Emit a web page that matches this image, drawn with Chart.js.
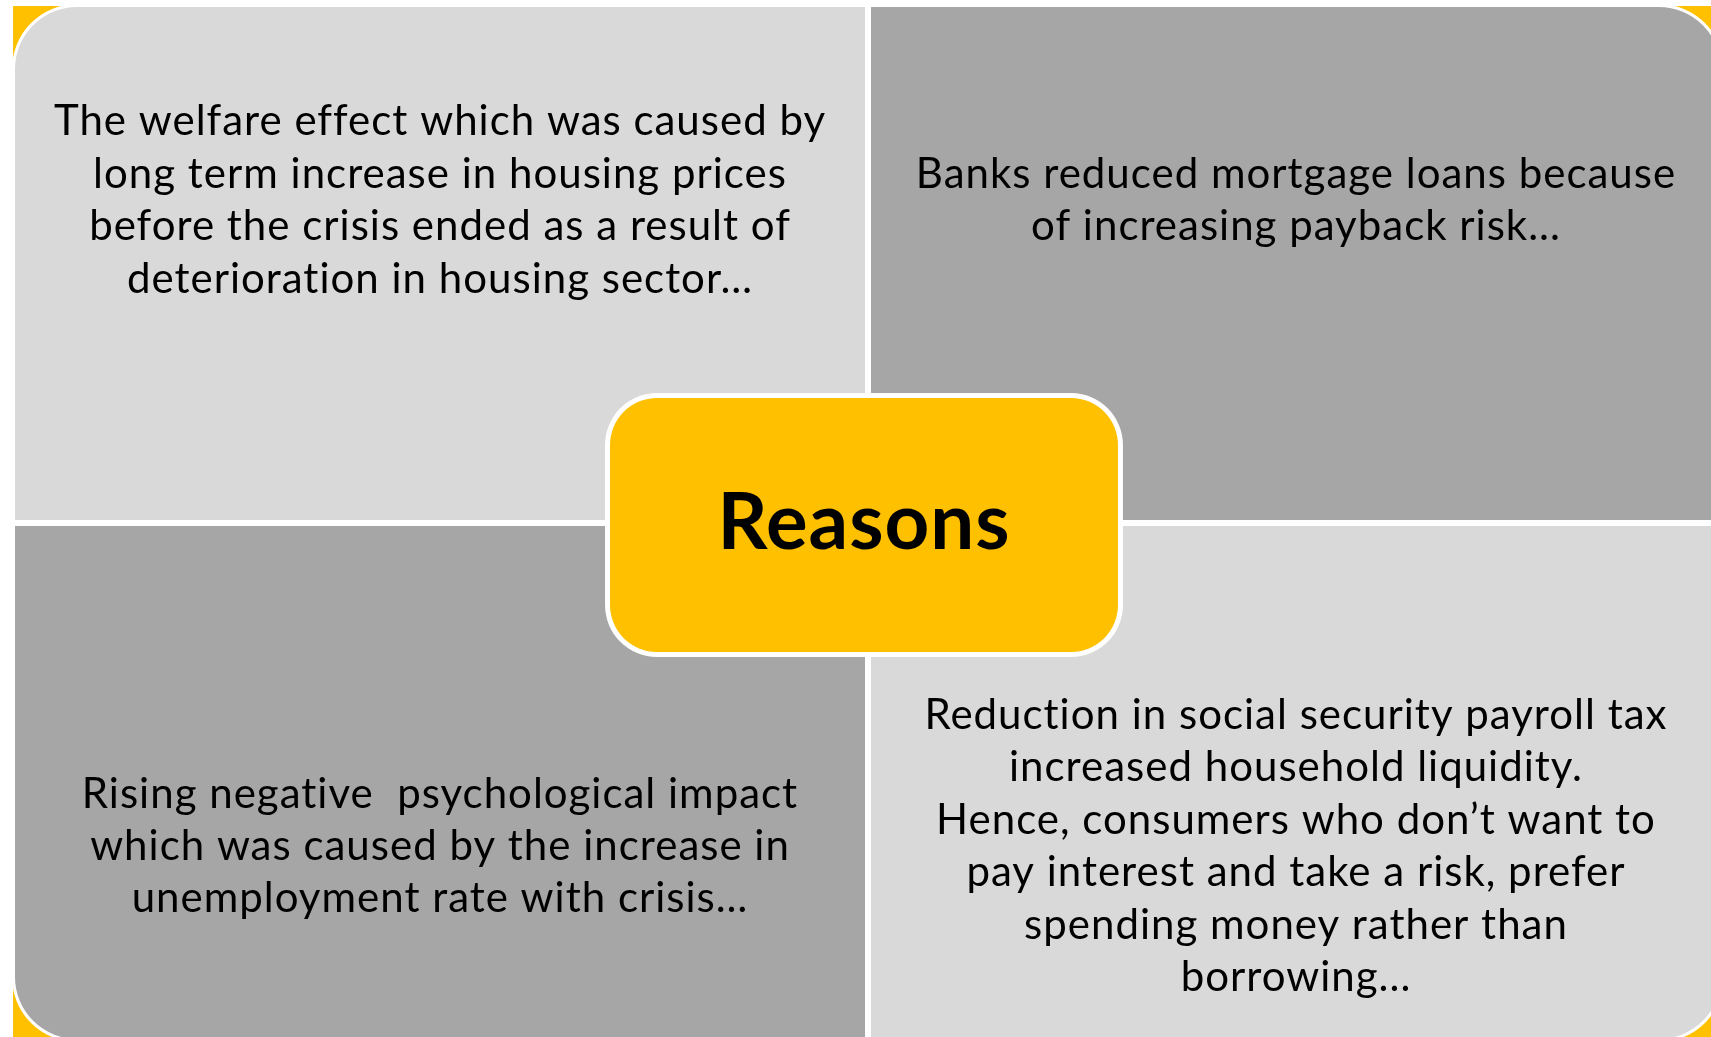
<!DOCTYPE html>
<html>
<head>
<meta charset="utf-8">
<script src="https://cdn.jsdelivr.net/npm/chart.js@4/dist/chart.umd.min.js"></script>
<style>
html, body { margin: 0; padding: 0; background: #fff; overflow: hidden; }
canvas { display: block; }
</style>
</head>
<body>
<canvas id="reasonsChart" width="1711" height="1037"></canvas>
<script>
// Texts of the four quadrants, line by line as on the slide
let topLeftLines = [
    'The welfare effect which was caused by',
    'long term increase in housing prices',
    'before the crisis ended as a result of',
    'deterioration in housing sector…'
];
let topRightLines = [
    'Banks reduced mortgage loans because',
    'of increasing payback risk...'
];
let bottomLeftLines = [
    'Rising negative  psychological impact',
    'which was caused by the increase in',
    'unemployment rate with crisis…'
];
let bottomRightLines = [
    'Reduction in social security payroll tax',
    'increased household liquidity.',
    'Hence, consumers who don’t want to',
    'pay interest and take a risk, prefer',
    'spending money rather than',
    'borrowing...'
];
let centerLabel = 'Reasons';

// colours
let lightGrey = '#d9d9d9';
let darkGrey = '#a6a6a6';
let gold = '#ffc000';

// layout in scale units (quadrants are the 0..1 / 1..2 cells)
let quadrants = [
    { lines: topLeftLines, x: [0, 1], y: [1, 2], fill: lightGrey, corner: 'tl' },
    { lines: topRightLines, x: [1, 2], y: [1, 2], fill: darkGrey, corner: 'tr' },
    { lines: bottomLeftLines, x: [0, 1], y: [0, 1], fill: darkGrey, corner: 'bl' },
    { lines: bottomRightLines, x: [1, 2], y: [0, 1], fill: lightGrey, corner: 'br' }
];
let centerBox = { x: [0.6917, 1.2989], y: [0.7403, 1.2519] };
let frame = { x: [-0.0023, 2.0023], y: [-0.0019, 2.0019] };

let fontFamily = 'Lato, "Open Sans", sans-serif';
let textSize = 42;
let lineGap = 52.4;
let labelSize = 78;

function roundBox(ctx, l, t, r, b, radii) {
    ctx.beginPath();
    ctx.roundRect(l, t, r - l, b - t, radii);
    ctx.fill();
}

let matrixPlugin = {
    id: 'matrix',
    beforeDatasetsDraw(chart) {
        let ctx = chart.ctx;
        let xs = chart.scales.x;
        let ys = chart.scales.y;
        let half = 3;     // half of the white gap between quadrants
        let rad = 62;

        ctx.save();
        ctx.fillStyle = '#fff';
        ctx.fillRect(0, 0, chart.width, chart.height);

        // gold frame behind the matrix
        ctx.fillStyle = gold;
        let fl = xs.getPixelForValue(frame.x[0]), fr = xs.getPixelForValue(frame.x[1]);
        let ft = ys.getPixelForValue(frame.y[1]), fb = ys.getPixelForValue(frame.y[0]);
        ctx.fillRect(fl, ft, fr - fl, fb - ft);

        let boxTop = ys.getPixelForValue(centerBox.y[1]);
        let boxBottom = ys.getPixelForValue(centerBox.y[0]);

        quadrants.forEach(q => {
            let l = xs.getPixelForValue(q.x[0]), r = xs.getPixelForValue(q.x[1]);
            let t = ys.getPixelForValue(q.y[1]), b = ys.getPixelForValue(q.y[0]);
            if (q.x[0] > 0) l += half; else r -= half;
            if (q.y[0] > 0) b -= half; else t += half;
            let corners = { tl: 0, tr: 0, br: 0, bl: 0 };
            corners[q.corner] = rad;
            let ring = { tl: 0, tr: 0, br: 0, bl: 0 };
            ring[q.corner] = rad + half;

            ctx.fillStyle = '#fff';
            roundBox(ctx, l - half, t - half, r + half, b + half,
                [ring.tl, ring.tr, ring.br, ring.bl]);
            ctx.fillStyle = q.fill;
            roundBox(ctx, l, t, r, b, [corners.tl, corners.tr, corners.br, corners.bl]);

            // text sits between the outer edge and the center box
            let cx = (l + r) / 2;
            let cy = q.y[0] > 0 ? (t + boxTop) / 2 : (boxBottom + b) / 2 - 2;
            ctx.fillStyle = '#000';
            ctx.font = textSize + 'px ' + fontFamily;
            ctx.letterSpacing = '1px';
            ctx.textAlign = 'center';
            ctx.textBaseline = 'alphabetic';
            let first = cy - (q.lines.length - 1) / 2 * lineGap;
            q.lines.forEach((line, i) => {
                ctx.fillText(line, cx, first + i * lineGap + 14);
            });
        });

        // center box
        let bl = xs.getPixelForValue(centerBox.x[0]), br = xs.getPixelForValue(centerBox.x[1]);
        ctx.fillStyle = '#fff';
        roundBox(ctx, bl, boxTop, br, boxBottom, 52);
        ctx.fillStyle = gold;
        roundBox(ctx, bl + 5, boxTop + 5, br - 5, boxBottom - 5, 47);

        ctx.fillStyle = '#000';
        ctx.font = 'bold ' + labelSize + 'px ' + fontFamily;
        ctx.letterSpacing = '1px';
        ctx.textAlign = 'center';
        ctx.fillText(centerLabel, (bl + br) / 2, (boxTop + boxBottom) / 2 - 3 + 27);
        ctx.restore();
    }
};

new Chart(document.getElementById('reasonsChart'), {
    type: 'scatter',
    data: { datasets: [{ data: [] }] },
    options: {
        responsive: false,
        animation: false,
        devicePixelRatio: 1,
        layout: { padding: 0 },
        plugins: { legend: { display: false }, tooltip: { enabled: false } },
        scales: {
            x: { type: 'linear', display: false, min: -0.0176, max: 1.9883 },
            y: { type: 'linear', display: false, min: 0.0039, max: 2.0136 }
        }
    },
    plugins: [matrixPlugin]
});
</script>
</body>
</html>
